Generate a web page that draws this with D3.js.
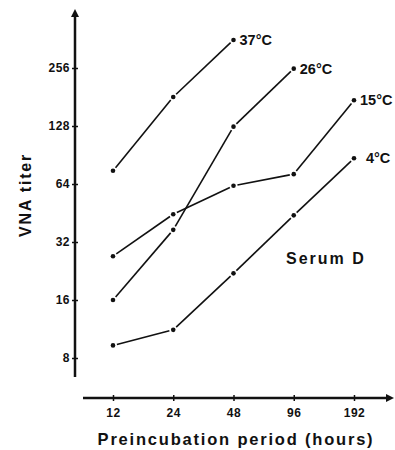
<!DOCTYPE html>
<html><head><meta charset="utf-8">
<script src="https://cdn.jsdelivr.net/npm/d3@7"></script>
<style>body{margin:0;background:#fff}svg{display:block}text{font-family:"Liberation Sans",Arial,sans-serif;font-weight:bold;fill:#111}</style>
</head><body>
<script>
const categories = ["12","24","48","96","192"];
const yTicks = [8,16,32,64,128,256];
const s37 = [75,181,358];
const s26 = [16,37,127,254];
const s15 = [27,44.6,62.7,72,174];
const s4 = [9.3,11.2,22,44,87];
const seriesNames = ["37°C","26°C","15°C","4°C"];
const seriesValues = [s37,s26,s15,s4];

const W=395,H=450;
const svg=d3.select("body").append("svg").attr("width",W).attr("height",H);
const x=d3.scalePoint().domain(categories).range([113,354]).padding(0);
const y=d3.scaleLog().base(2).domain([8,256]).range([358,68]);
const ink="#111";

// y axis
const ya=svg.append("g").attr("transform","translate(75,0)").call(d3.axisLeft(y).tickValues(yTicks).tickFormat(d3.format("d")).tickSize(3));
ya.select(".domain").remove();
ya.selectAll(".tick line").attr("x1",-3).attr("x2",3).attr("stroke",ink).attr("stroke-width",1.5);
ya.selectAll(".tick text").attr("x",-5).style("font-size","12px").style("letter-spacing","0.5px").style("font-family","Liberation Sans, Arial, sans-serif").style("font-weight","bold").attr("fill",ink);
svg.append("line").attr("x1",75).attr("x2",75).attr("y1",377).attr("y2",14).attr("stroke",ink).attr("stroke-width",2.5);
svg.append("path").attr("d","M75,9 L71,17 L79,17 Z").attr("fill",ink);

// x axis
const xa=svg.append("g").attr("transform","translate(0,398)").call(d3.axisBottom(x).tickSize(3));
xa.select(".domain").remove();
xa.selectAll(".tick line").attr("y1",-3).attr("y2",3).attr("stroke",ink).attr("stroke-width",1.5);
xa.selectAll(".tick text").attr("y",10).style("font-size","12px").style("letter-spacing","0.5px").style("font-family","Liberation Sans, Arial, sans-serif").style("font-weight","bold").attr("fill",ink);
svg.append("line").attr("x1",83).attr("x2",388).attr("y1",398).attr("y2",398).attr("stroke",ink).attr("stroke-width",2.5);
svg.append("path").attr("d","M394,398 L386,394 L386,402 Z").attr("fill",ink);

// series
const gap=4;
seriesValues.forEach((vals,si)=>{
  const pts=vals.map((v,i)=>[x(categories[i]),y(v)]);
  const g=svg.append("g");
  for(let i=0;i<pts.length-1;i++){
    const [x0,y0]=pts[i],[x1,y1]=pts[i+1];
    const L=Math.hypot(x1-x0,y1-y0),ux=(x1-x0)/L,uy=(y1-y0)/L;
    g.append("line").attr("x1",x0+ux*gap).attr("y1",y0+uy*gap).attr("x2",x1-ux*gap).attr("y2",y1-uy*gap)
      .attr("stroke",ink).attr("stroke-width",1.6);
  }
  g.selectAll("circle").data(pts).join("circle").attr("cx",d=>d[0]).attr("cy",d=>d[1]).attr("r",2.3).attr("fill",ink);
  const last=pts[pts.length-1];
  const dx = si===3 ? 12 : 6;
  g.append("text").attr("x",last[0]+dx).attr("y",last[1]+5).style("font-size","14.5px").text(seriesNames[si]);
});

svg.append("text").attr("x",286).attr("y",264).style("font-size","16px").style("letter-spacing","2px").text("Serum D");
svg.append("text").attr("transform","translate(31,195) rotate(-90)").attr("text-anchor","middle").style("font-size","16px").style("letter-spacing","1.8px").text("VNA titer");
svg.append("text").attr("x",236).attr("y",445).attr("text-anchor","middle").style("font-size","16.5px").style("letter-spacing","1.8px").text("Preincubation period (hours)");
</script>
</body></html>
